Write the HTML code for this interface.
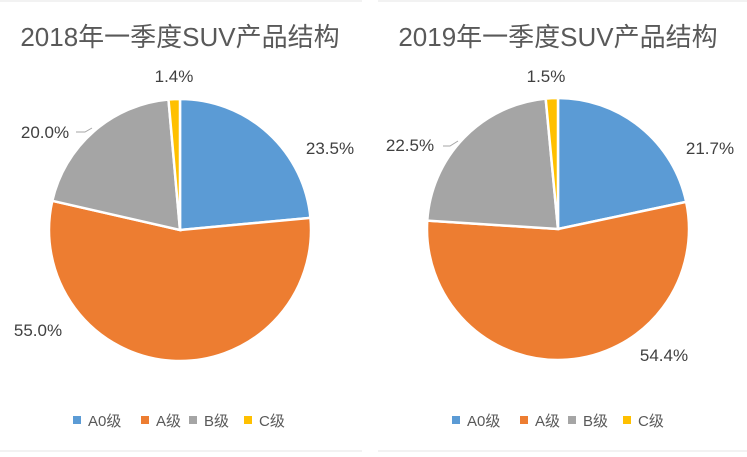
<!DOCTYPE html>
<html><head><meta charset="utf-8">
<style>
html,body{margin:0;padding:0;background:#fff;}
body{width:747px;height:452px;overflow:hidden;font-family:"Liberation Sans","Noto Sans CJK SC",sans-serif;}
svg text{font-family:"Liberation Sans","Noto Sans CJK SC",sans-serif;fill:#404040;}
</style></head><body>
<svg id="c" width="747" height="452" xmlns="http://www.w3.org/2000/svg">
<line x1="0" y1="1" x2="362" y2="1" stroke="#e4e4e4"/>
<line x1="378" y1="1" x2="747" y2="1" stroke="#e4e4e4"/>
<line x1="0" y1="451" x2="362" y2="451" stroke="#e4e4e4"/>
<line x1="378" y1="451" x2="747" y2="451" stroke="#e4e4e4"/>
<text x="180" y="46" font-size="26" text-anchor="middle" style="fill:#595959">2018年一季度SUV产品结构</text>
<text x="558" y="46" font-size="26" text-anchor="middle" style="fill:#595959">2019年一季度SUV产品结构</text>
</svg>
<script>
const categories = ["A0级","A级","B级","C级"];
const values2018 = [23.5, 55.0, 20.0, 1.4];
const values2019 = [21.7, 54.4, 22.5, 1.5];
const colors = ["#5b9bd5","#ed7d31","#a5a5a5","#ffc000"];
const svg = document.getElementById('c');
const NS = "http://www.w3.org/2000/svg";
function mk(tag, attrs){const e=document.createElementNS(NS,tag);for(const k in attrs)e.setAttribute(k,attrs[k]);svg.appendChild(e);return e;}
function drawPie(vals, cx, cy, r, labelPos, leader, prefix){
  const total = vals.reduce((a,b)=>a+b,0);
  let a0 = 0;
  vals.forEach((v,i)=>{
    const a1 = a0 + v/total*2*Math.PI;
    const x0 = cx + r*Math.sin(a0), y0 = cy - r*Math.cos(a0);
    const x1 = cx + r*Math.sin(a1), y1 = cy - r*Math.cos(a1);
    const large = (a1-a0) > Math.PI ? 1 : 0;
    const p = mk('path',{d:`M${cx},${cy} L${x0},${y0} A${r},${r} 0 ${large} 1 ${x1},${y1} Z`,fill:colors[i],stroke:'#fff','stroke-width':2.5});
    
    
    const t = mk('text',{x:labelPos[i][0],y:labelPos[i][1],'font-size':17,'text-anchor':'middle'});
    t.textContent = v.toFixed(1)+'%';
    
    
    a0 = a1;
  });
  const l = mk('path',{d:leader,stroke:'#a6a6a6',fill:'none','stroke-width':1});
  
  
}
drawPie(values2018,180,230,131,[[330,154],[38,336],[45,138],[174,82]],"M76,132 L85,132 L92,128",'pie-2018');
drawPie(values2019,558,229,131,[[710,154],[664,361],[410,151],[546,82]],"M443,146 L450,146 L458,141",'pie-2019');
function legend(x0, prefix){
  const offs=[0,68,116,171];
  categories.forEach((c,i)=>{
    const s = mk('rect',{x:x0+offs[i],y:416,width:8,height:8,fill:colors[i]});
    
    
    const t = mk('text',{x:x0+offs[i]+15,y:426,'font-size':15});
    t.style.fill='#595959';
    t.textContent = c;
    
    
  });
}
legend(73,'pie-2018');
legend(452,'pie-2019');
</script>
</body></html>
